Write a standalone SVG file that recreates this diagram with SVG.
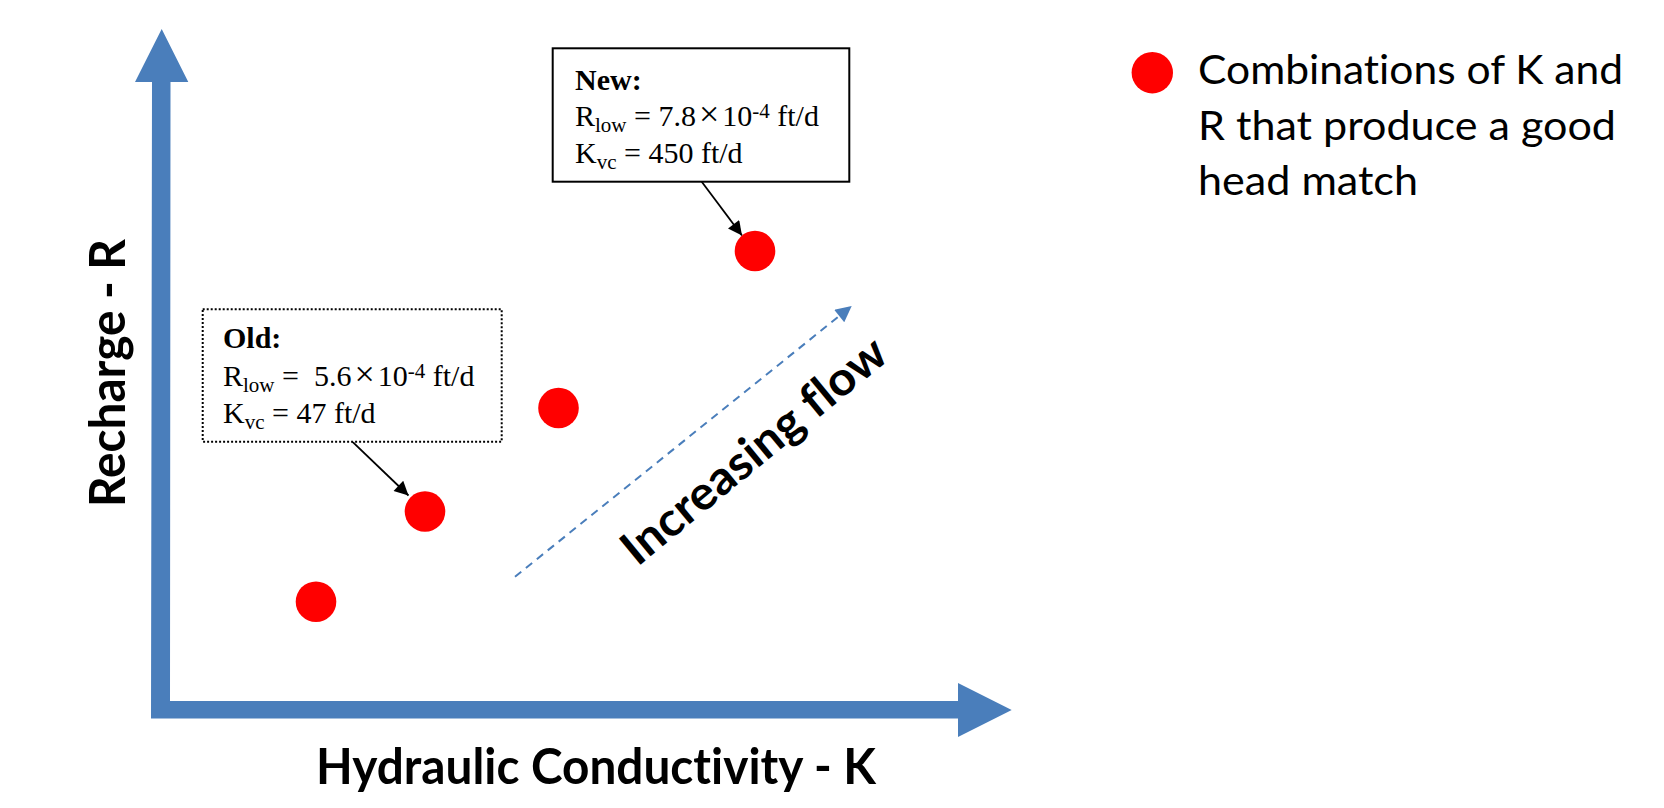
<svg xmlns="http://www.w3.org/2000/svg" width="1664" height="808" viewBox="0 0 1664 808">
<style>
.axis{fill:#4A7EBB;}
.dot{fill:#FF0000;}
.lbl{font-family:Lato,"Open Sans","Liberation Sans",sans-serif;font-weight:bold;fill:#000;font-variant-ligatures:none;}
.leg{font-family:Lato,"Open Sans","Liberation Sans",sans-serif;font-size:41px;fill:#000;font-variant-ligatures:none;}
.tb{font-family:"Liberation Serif","Times New Roman",serif;font-size:30px;fill:#000;}
.sm{font-size:21px;}
.x{font-size:36px;}
.box{fill:#fff;stroke:#000;stroke-width:2;}
.boxd{fill:#fff;stroke:#000;stroke-width:2;stroke-dasharray:2,2;}
.ptr{stroke:#000;stroke-width:1.8;fill:none;}
.flow{stroke:#4A7EBB;stroke-width:2;fill:none;stroke-dasharray:8,6;}
</style>
<defs>
<marker id="ah" viewBox="0 0 10 10" refX="10" refY="5" markerWidth="16" markerHeight="14" markerUnits="userSpaceOnUse" orient="auto"><path d="M0,0 L10,5 L0,10 z" fill="#000"/></marker>
<marker id="ahb" viewBox="0 0 10 10" refX="10" refY="5" markerWidth="18" markerHeight="16" markerUnits="userSpaceOnUse" orient="auto"><path d="M0,0 L10,5 L0,10 z" fill="#4A7EBB"/></marker>
</defs>

<g id="axes">
<polygon class="axis" points="152,82 135,82 161.7,29 188.3,82 170.5,82 170,701 958,701 958,683 1011.7,710 958,737 958,718.5 151,718.5"/>
<text class="lbl" font-size="50" x="596" y="784" text-anchor="middle" textLength="560" lengthAdjust="spacingAndGlyphs">Hydraulic Conductivity - K</text>
<text class="lbl" font-size="49" transform="translate(125,373) rotate(-90)" x="0" y="0" text-anchor="middle" textLength="268" lengthAdjust="spacingAndGlyphs">Recharge - R</text>
</g>

<g id="connectors">
<line class="ptr" x1="701.7" y1="181.7" x2="742" y2="235.5" marker-end="url(#ah)"/>
<line class="ptr" x1="352.3" y1="441.7" x2="408.5" y2="495.5" marker-end="url(#ah)"/>
<line class="flow" x1="515" y1="576.7" x2="851.7" y2="306" marker-end="url(#ahb)"/>
<text class="lbl" font-size="47" transform="translate(764,463) rotate(-39.5)" x="0" y="0" text-anchor="middle" textLength="328" lengthAdjust="spacingAndGlyphs">Increasing flow</text>
</g>

<g id="dot1"><circle class="dot" cx="316" cy="601.7" r="20.3"/></g>
<g id="dot2"><circle class="dot" cx="425" cy="511.5" r="20.3"/></g>
<g id="dot3"><circle class="dot" cx="558.5" cy="408" r="20.3"/></g>
<g id="dot4"><circle class="dot" cx="755" cy="251" r="20.3"/></g>

<g id="box-new">
<rect class="box" x="552.7" y="48.3" width="296.6" height="133.4"/>
<text class="tb" x="575" y="90" font-weight="bold">New:</text>
<text class="tb" x="575" y="126" xml:space="preserve">R<tspan class="sm" dy="6">low</tspan><tspan dy="-6"> = 7.8</tspan><tspan class="x" dx="3">×</tspan><tspan dx="3">10</tspan><tspan class="sm" dy="-8">-4</tspan><tspan dy="8"> ft/d</tspan></text>
<text class="tb" x="575" y="163" xml:space="preserve">K<tspan class="sm" dy="6">vc</tspan><tspan dy="-6"> = 450 ft/d</tspan></text>
</g>

<g id="box-old">
<rect class="boxd" x="202.7" y="309.3" width="299" height="132.4"/>
<text class="tb" x="223" y="348" font-weight="bold">Old:</text>
<text class="tb" x="223" y="386" xml:space="preserve">R<tspan class="sm" dy="6">low</tspan><tspan dy="-6"> =  5.6</tspan><tspan class="x" dx="3">×</tspan><tspan dx="3">10</tspan><tspan class="sm" dy="-8">-4</tspan><tspan dy="8"> ft/d</tspan></text>
<text class="tb" x="223" y="423" xml:space="preserve">K<tspan class="sm" dy="6">vc</tspan><tspan dy="-6"> = 47 ft/d</tspan></text>
</g>

<g id="legend">
<circle class="dot" cx="1152.3" cy="72.7" r="20.7"/>
<text class="leg" x="1198" y="84" textLength="425" lengthAdjust="spacingAndGlyphs">Combinations of K and</text>
<text class="leg" x="1198" y="140" textLength="418" lengthAdjust="spacingAndGlyphs">R that produce a good</text>
<text class="leg" x="1198" y="195" textLength="220" lengthAdjust="spacingAndGlyphs">head match</text>
</g>
</svg>
